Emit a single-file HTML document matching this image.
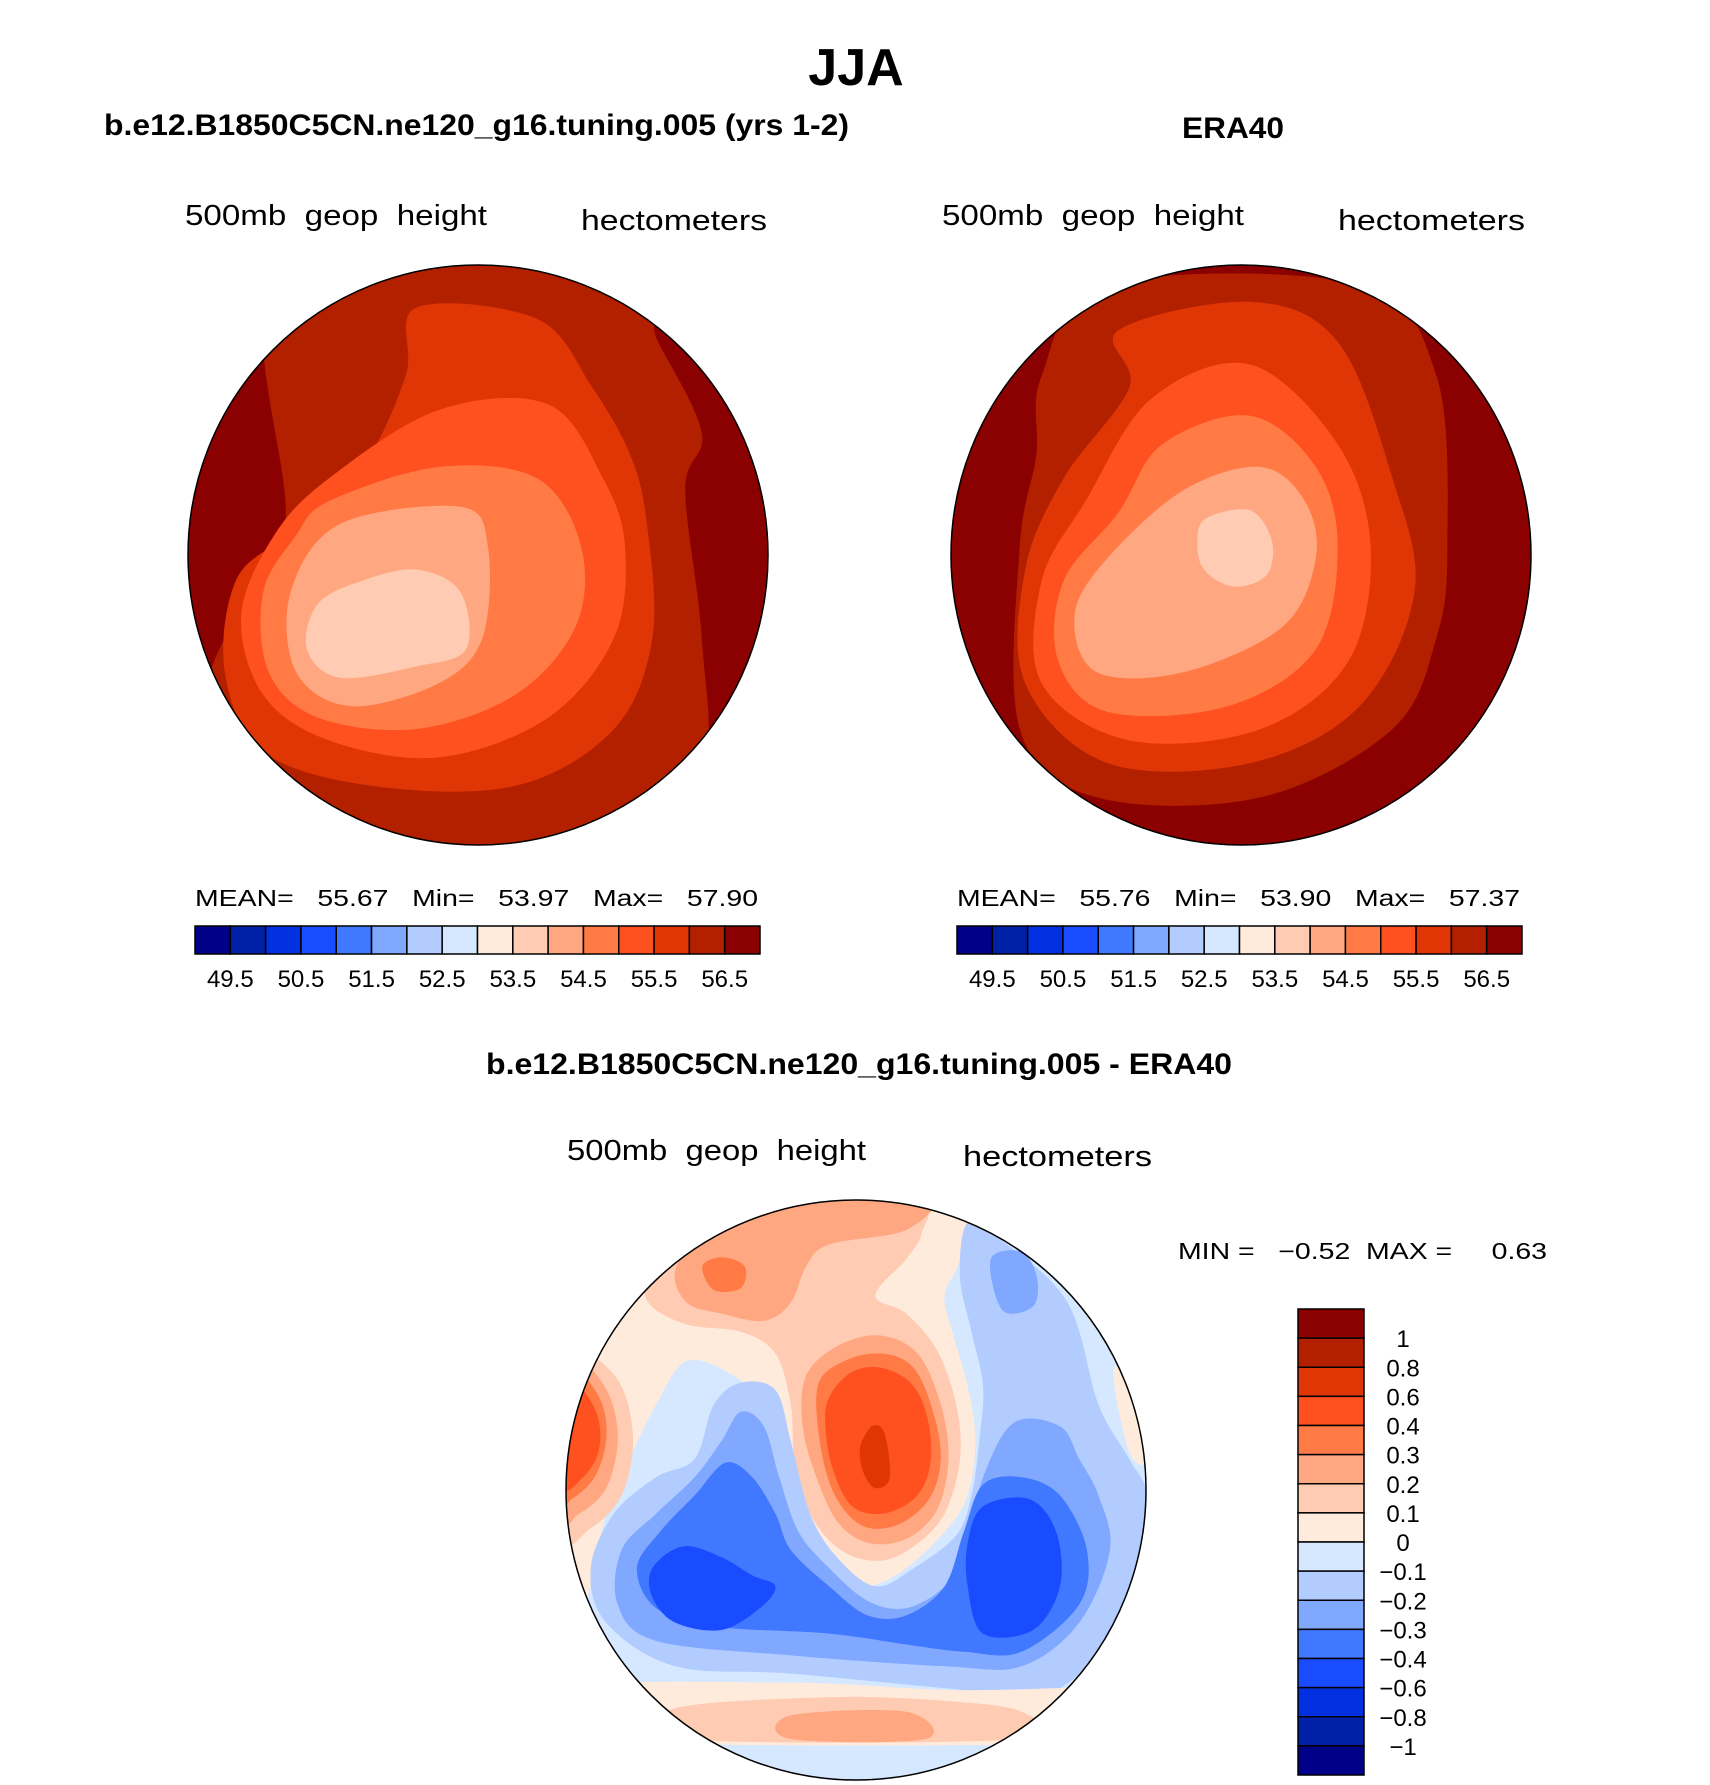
<!DOCTYPE html>
<html><head><meta charset="utf-8">
<style>
html,body{margin:0;padding:0;background:#fff;}
svg{display:block;}
text{font-family:"Liberation Sans",sans-serif;fill:#000;}
.b{font-weight:bold;}
.pre{white-space:pre;}
</style></head>
<body>
<svg id="root" width="1710" height="1785" viewBox="0 0 1710 1785" xmlns="http://www.w3.org/2000/svg">
<defs>
<clipPath id="cL"><circle cx="478" cy="555" r="290"/></clipPath>
<clipPath id="cR"><circle cx="1241" cy="555" r="290"/></clipPath>
<clipPath id="cB"><circle cx="856" cy="1490" r="290"/></clipPath>
</defs>
<text x="856" y="85" text-anchor="middle" font-size="52" class="b">JJA</text>
<text x="104" y="135" font-size="30" class="b" textLength="745" lengthAdjust="spacingAndGlyphs">b.e12.B1850C5CN.ne120_g16.tuning.005 (yrs 1-2)</text>
<text x="1182" y="138" font-size="30" class="b" textLength="102" lengthAdjust="spacingAndGlyphs">ERA40</text>
<text x="185" y="225" font-size="29" class="pre" textLength="302" lengthAdjust="spacingAndGlyphs">500mb  geop  height</text>
<text x="581" y="230" font-size="29" textLength="186" lengthAdjust="spacingAndGlyphs">hectometers</text>
<text x="942" y="225" font-size="29" class="pre" textLength="302" lengthAdjust="spacingAndGlyphs">500mb  geop  height</text>
<text x="1338" y="230" font-size="29" textLength="187" lengthAdjust="spacingAndGlyphs">hectometers</text>
<text x="486" y="1074" font-size="30" class="b" textLength="746" lengthAdjust="spacingAndGlyphs">b.e12.B1850C5CN.ne120_g16.tuning.005 - ERA40</text>
<text x="567" y="1160" font-size="29" class="pre" textLength="299" lengthAdjust="spacingAndGlyphs">500mb  geop  height</text>
<text x="963" y="1166" font-size="29" textLength="189" lengthAdjust="spacingAndGlyphs">hectometers</text>
<text x="1178" y="1259" font-size="23" class="pre" textLength="369" lengthAdjust="spacingAndGlyphs">MIN =   −0.52  MAX =     0.63</text>

<g id="mapL" clip-path="url(#cL)"><rect x="150" y="230" width="660" height="660" fill="#8b0000"/><g id="mapLg" transform="scale(1.0965,1.139)"></g></g>
<circle cx="478" cy="555" r="290" fill="none" stroke="#000" stroke-width="1.5"/>
<g id="mapR" clip-path="url(#cR)"><rect x="900" y="230" width="680" height="660" fill="#8b0000"/><g id="mapRg" transform="scale(1.0965,1.139)"></g></g>
<circle cx="1241" cy="555" r="290" fill="none" stroke="#000" stroke-width="1.5"/>
<g id="mapB" clip-path="url(#cB)"><rect x="550" y="1190" width="620" height="600" fill="#d5e8ff"/><g id="mapBg" transform="translate(560,1150) scale(0.3846,0.3636)"></g></g>
<circle cx="856" cy="1490" r="290" fill="none" stroke="#000" stroke-width="1.5"/>
<g id="cbs"></g>
</svg>
<script>
const levelLabels = ["49.5","50.5","51.5","52.5","53.5","54.5","55.5","56.5"];
const paletteColors = ["#000088","#0020a8","#0030e0","#1a4cff","#4078ff","#80a8ff","#b2ccff","#d5e8ff","#ffebdc","#ffcbb2","#ffa780","#ff7a45","#ff5020","#e03505","#b22000","#8b0000"];
const diffLabels = ["1","0.8","0.6","0.4","0.3","0.2","0.1","0","−0.1","−0.2","−0.3","−0.4","−0.6","−0.8","−1"];
const leftStats = ["55.67","53.97","57.90"];
const rightStats = ["55.76","53.90","57.37"];
const NS="http://www.w3.org/2000/svg";
function mk(tag,attrs,parent){const e=document.createElementNS(NS,tag);for(const k in attrs)e.setAttribute(k,attrs[k]);parent.appendChild(e);return e;}
function smooth(p){let d="";const n=p.length;for(let i=0;i<n;i++){const p0=p[(i-1+n)%n],p1=p[i],p2=p[(i+1)%n],p3=p[(i+2)%n];if(i===0)d+="M"+p1[0]+","+p1[1];const c1=[p1[0]+(p2[0]-p0[0])/6,p1[1]+(p2[1]-p0[1])/6],c2=[p2[0]-(p3[0]-p1[0])/6,p2[1]-(p3[1]-p1[1])/6];d+="C"+c1.join(",")+" "+c2.join(",")+" "+p2.join(",");}return d+"Z";}
const C=paletteColors;
const leftLayers=[
 [C[14],[[260,230],[260,460],[215,540],[190,620],[250,720],[420,760],[560,740],[640,680],[640,560],[625,430],[640,380],[600,300],[560,230]]],
 [C[13],[[380,270],[490,280],[540,340],[575,400],[590,460],[595,560],[560,640],[470,690],[340,690],[240,660],[205,590],[215,510],[260,470],[330,410],[370,330]]],
 [C[12],[[300,420],[400,360],[500,355],[550,420],[570,480],[560,560],[500,630],[400,665],[300,650],[240,610],[220,540],[250,470]]],
 [C[11],[[300,440],[400,410],[490,420],[530,480],[525,550],[470,610],[380,640],[290,630],[245,590],[240,520],[270,470]]],
 [C[10],[[310,460],[420,445],[445,480],[440,560],[400,600],[320,620],[270,590],[265,520]]],
 [C[9],[[330,510],[380,500],[420,520],[425,570],[380,585],[310,595],[280,570],[290,530]]]
];
const rightLayers=[
 [C[14],[[950,330],[1010,250],[1240,250],[1310,330],[1320,480],[1310,560],[1270,640],[1150,700],[1000,700],[930,640],[930,480],[945,400]]],
 [C[13],[[1020,290],[1140,265],[1220,300],[1270,420],[1290,520],[1240,620],[1140,670],[1010,670],[935,600],[935,500],[970,420],[1030,340]]],
 [C[12],[[1050,350],[1140,320],[1220,390],[1250,480],[1230,580],[1150,640],[1030,650],[950,600],[950,510],[990,440]]],
 [C[11],[[1060,390],[1140,365],[1200,410],[1220,480],[1200,570],[1120,620],[1010,625],[965,580],[970,510],[1020,450]]],
 [C[10],[[1080,430],[1150,410],[1190,440],[1200,490],[1170,550],[1080,590],[1000,590],[980,540],[1010,490]]],
 [C[9],[[1100,455],[1140,448],[1160,475],[1155,505],[1125,515],[1098,500],[1092,475]]]
];
const bottomLayers=[
 [C[8],[[0,380],[300,140],[1060,140],[1040,300],[1000,400],[1020,500],[1060,650],[1080,800],[1060,950],[1000,1050],[900,1150],[800,1200],[700,1170],[620,1080],[560,850],[520,700],[450,620],[330,580],[250,700],[180,850],[120,1000],[90,1150],[60,1250],[0,1250]]],
 [C[9],[[230,330],[300,200],[600,130],[930,140],[940,230],[900,300],[820,400],[900,450],[980,550],[1030,700],[1040,850],[1000,1000],[920,1090],[830,1130],[730,1100],[650,1000],[610,850],[600,700],[560,560],[470,500],[330,480],[230,420]]],
 [C[9],[[0,520],[80,560],[160,650],[190,800],[160,950],[80,1040],[0,1050]]],
 [C[10],[[300,330],[380,220],[560,140],[950,130],[900,220],[700,260],[640,320],[600,420],[530,470],[420,450],[330,420]]],
 [C[10],[[640,620],[720,540],[830,510],[930,560],[990,700],[1010,850],[980,990],[900,1070],[800,1080],[720,1020],[660,880],[630,750]]],
 [C[10],[[0,560],[70,590],[130,680],[150,800],[120,930],[50,1000],[0,1000]]],
 [C[11],[[370,320],[420,295],[480,320],[470,380],[400,385]]],
 [C[11],[[670,650],[740,580],[840,560],[920,600],[970,720],[990,850],[960,960],[880,1030],[790,1035],[720,960],[680,830]]],
 [C[11],[[0,590],[60,620],[110,700],[120,800],[90,900],[30,960],[0,960]]],
 [C[12],[[700,680],[760,610],[840,600],[920,650],[960,760],[960,880],[920,960],[840,1000],[760,980],[710,880],[690,760]]],
 [C[12],[[0,620],[60,660],[100,740],[100,830],[60,900],[0,920]]],
 [C[13],[[780,820],[810,760],[840,770],[855,840],[855,910],[820,930],[790,890]]],
 [C[6],[[1060,200],[1150,250],[1320,420],[1400,700],[1480,850],[1525,950],[1500,1150],[1400,1380],[1250,1500],[1000,1480],[600,1440],[300,1420],[120,1300],[80,1150],[140,1000],[250,900],[350,850],[400,700],[470,640],[560,660],[600,800],[650,1000],[720,1120],[820,1200],[920,1150],[1030,1060],[1070,950],[1090,800],[1100,650],[1070,500],[1040,350]]],
 [C[5],[[1120,300],[1200,280],[1240,350],[1230,430],[1150,440]]],
 [C[5],[[1180,750],[1300,760],[1350,850],[1400,950],[1430,1100],[1350,1300],[1200,1420],[1000,1420],[600,1390],[250,1350],[150,1250],[160,1100],[250,1000],[350,900],[420,800],[470,720],[530,760],[570,900],[620,1050],[700,1150],[800,1240],[900,1260],[1000,1200],[1050,1100],[1100,900]]],
 [C[4],[[1100,920],[1200,900],[1300,950],[1370,1100],[1350,1250],[1200,1380],[1050,1380],[900,1360],[700,1330],[400,1310],[250,1260],[200,1150],[260,1050],[350,950],[430,860],[500,900],[560,1000],[600,1100],[700,1200],[800,1280],[900,1280],[1000,1200],[1050,1050]]],
 [C[3],[[1100,980],[1220,960],[1290,1050],[1300,1200],[1230,1320],[1100,1330],[1060,1200],[1060,1080]]],
 [C[3],[[240,1150],[320,1090],[420,1120],[500,1170],[560,1200],[520,1260],[420,1320],[300,1300],[240,1230]]],
 [C[8],[[0,1480],[600,1465],[1000,1485],[1300,1480],[1560,1470],[1560,1620],[0,1620]]],
 [C[9],[[300,1535],[700,1505],[1000,1515],[1200,1545],[1200,1620],[300,1620]]],
 [C[10],[[600,1555],[900,1545],[950,1620],[600,1620]]],
 [C[8],[[1440,600],[1530,680],[1530,850],[1480,830]]]
];
function drawLayers(gid,layers,name){const g=document.getElementById(gid);layers.forEach(l=>{const p=mk("path",{d:smooth(l[1]),fill:l[0]},g);

});}
drawLayers("mapLg",leftLayers,"contour-band");
drawLayers("mapRg",rightLayers,"contour-band");
drawLayers("mapBg",bottomLayers,"contour-band");
const cbs=document.getElementById("cbs");
function hbar(x0,x1,stats,nm){
 const w=(x1-x0)/16;
 paletteColors.forEach((c,i)=>{const r=mk("rect",{x:x0+i*w,y:926,width:w,height:28,fill:c,stroke:"#000","stroke-width":1.5},cbs);
 
 });
 levelLabels.forEach((t,i)=>{const e=mk("text",{x:x0+(2*i+1)*w,y:987,"font-size":24,"text-anchor":"middle"},cbs);e.textContent=t;
 
 });
 const s=mk("text",{x:x0,y:906,"font-size":23,textLength:x1-x0-2,lengthAdjust:"spacingAndGlyphs",style:"white-space:pre"},cbs);
 s.textContent="MEAN=   "+stats[0]+"   Min=   "+stats[1]+"   Max=   "+stats[2];
 
 
}
hbar(195,760,leftStats,"model");
hbar(957,1522,rightStats,"era40");
const vy0=1309, vy1=1775;
const vh=(vy1-vy0)/16;
paletteColors.slice().reverse().forEach((c,i)=>{const r=mk("rect",{x:1298,y:vy0+i*vh,width:66,height:vh,fill:c,stroke:"#000","stroke-width":1.5},cbs);

});
diffLabels.forEach((t,i)=>{const e=mk("text",{x:1403,y:vy0+(i+1)*vh+9,"font-size":24,"text-anchor":"middle"},cbs);e.textContent=t;

});
</script>
</body></html>
